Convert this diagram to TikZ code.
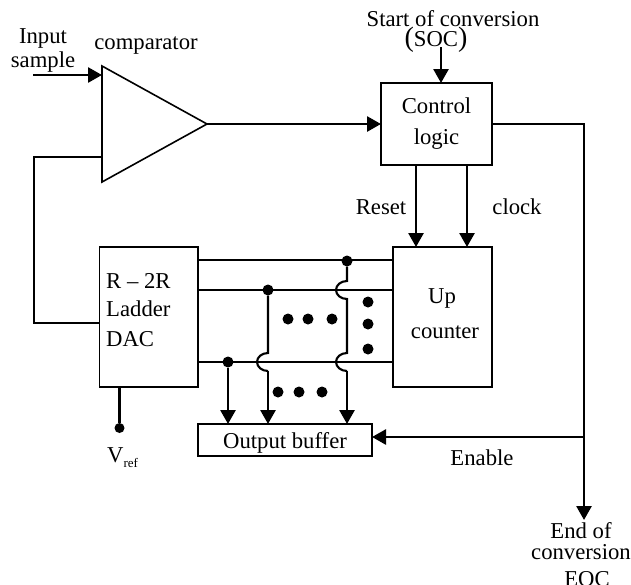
\documentclass[tikz,border=0pt]{standalone}
\usepackage{fontspec}
\setmainfont{Liberation Serif}
\usepackage{tikz}
\usetikzlibrary{shapes.geometric, arrows.meta, positioning}

\begin{document}
\begin{tikzpicture}[
    x=1pt, y=1pt,
    box/.style={rectangle, draw, line width=1.6pt, inner sep=0pt, outer sep=0pt, font=\fontsize{22.7}{31}\selectfont, align=center},
    label/.style={inner sep=0pt, anchor=base, font=\fontsize{22.7}{24}\selectfont, align=center},
    arrow/.style={-{Triangle[length=14pt, width=15pt]}, line width=2.7pt},
    wire/.style={line width=2.1pt},
    junction/.style={circle, fill=black, inner sep=0pt, outer sep=0pt, minimum size=11pt},
    moredots/.style={circle, fill=black, inner sep=0pt, minimum size=11pt}
]
\useasboundingbox (0,0) rectangle (631,-584);

% Comparator
\node[isosceles triangle, isosceles triangle stretches, draw, line width=1.6pt, inner sep=0pt, outer sep=0pt, minimum width=116pt, minimum height=105pt, anchor=apex] (cmp) at (207,-124) {};
\node[label] (cmplabel) at (146,-49.5) {comparator};
\node[label, anchor=center] (inlabel) at (43,-50) {Input\\sample};
\coordinate (insrc) at (33,-75);

% Control logic
\node[box, minimum width=111pt, minimum height=82pt] (ctrl) at (436.5,-124) {Control\\logic};
\node[label] (soclabel) at (453,-26) {Start of conversion};
\node[label] (soc) at (436,-46) {{\fontsize{28}{28}\selectfont(}SOC{\fontsize{28}{28}\selectfont)}};
\coordinate (socsrc) at (441,-47);

% Up counter and ladder
\node[box, minimum width=99pt, minimum height=140pt, below=82pt of ctrl.south, xshift=6pt] (counter) {};
\node[label] (uplabel) at (442,-303) {Up};
\node[label] (counterlabel) at (445,-338) {counter};
\node[box, minimum width=98.5pt, minimum height=140pt, anchor=north west] (dac) at (99.5,-247) {};
\node[label, anchor=base west] (dac1) at (106,-288) {R -- 2R};
\node[label, anchor=base west] (dac2) at (106,-316) {Ladder};
\node[label, anchor=base west] (dac3) at (106,-346) {DAC};

% Output buffer
\node[box, minimum width=174pt, minimum height=32pt, anchor=north west] (buf) at (198,-424) {};
\node[label] (buflabel) at (285,-448) {Output buffer};

% Reference
\node[junction, minimum size=10pt] (vrefdot) at (119.5,-428) {};
\node[label, anchor=base west] (vref) at (107,-462) {V\raisebox{-5pt}{\fontsize{13}{13}\selectfont ref}};

% Labels
\node[label] (resetlabel) at (381,-214) {Reset};
\node[label] (clocklabel) at (517,-214) {clock};
\node[label] (enablelabel) at (482,-465) {Enable};
\node[label, anchor=center, font=\fontsize{22.7}{21}\selectfont] (eoclabel) at (581,-541) {End of\\conversion};
\node[label] (eoc) at (587,-586) {EOC};

% Bus
\coordinate (bit1) at (dac.east |- 0,-260);
\coordinate (bit2) at (dac.east |- 0,-290);
\coordinate (bit3) at (dac.east |- 0,-362);
\draw[wire] (bit1) -- (bit1 -| counter.west);
\draw[wire] (bit2) -- (bit2 -| counter.west);
\draw[wire] (bit3) -- (bit3 -| counter.west);
\node[junction] (tap1) at (347,-261) {};
\node[junction] (tap2) at (268,-290) {};
\node[junction] (tap3) at (228,-362) {};

% Ellipsis dots
\foreach \x/\y [count=\i] in {288/319, 308/319, 332/319, 368/302, 368/324, 368/349, 278/392, 299/392, 322/392}
    \node[moredots] (more\i) at (\x,-\y) {};

% Arrows
\draw[arrow] (insrc) -- (insrc -| cmp.lower side);
\draw[arrow] (cmp.apex) -- (ctrl.west);
\draw[arrow] (socsrc) -- (socsrc |- ctrl.north);
\draw[arrow] (ctrl.south -| 416,0) -- (counter.north -| 416,0);
\draw[arrow] (ctrl.south -| 467,0) -- (counter.north -| 467,0);
\draw[arrow] (ctrl.east) -| (584,-520) coordinate (eocend);
\draw[arrow] (584,-437) coordinate (enableend) -- (enableend -| buf.east);
\draw[wire] (dac.west |- 0,-323) -- (34,-323) |- (cmp.lower side |- 0,-157);
\draw[wire] (dac.south -| vrefdot) -- (vrefdot);

% Bus tap lines with hops
\draw[arrow] (tap3) -- (tap3 |- buf.north);
\draw[wire] (tap2) -- (268,-353) arc[start angle=90, end angle=270, x radius=11, y radius=9] coordinate (hop2);
\draw[arrow] (hop2) -- (hop2 |- buf.north);
\draw[wire] (tap1) -- (347,-281) arc[start angle=90, end angle=270, x radius=11, y radius=9] -- (347,-353) arc[start angle=90, end angle=270, x radius=11, y radius=9] coordinate (hop1);
\draw[arrow] (hop1) -- (hop1 |- buf.north);

\end{tikzpicture}
\end{document}
